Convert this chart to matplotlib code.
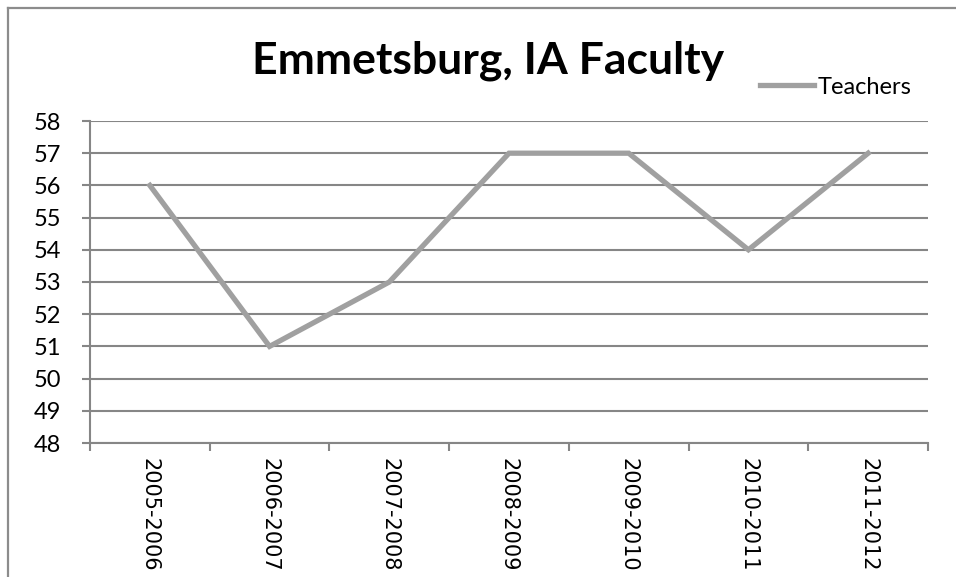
import matplotlib
matplotlib.use("Agg")
import matplotlib.pyplot as plt
from matplotlib.lines import Line2D

categories = ["2005-2006", "2006-2007", "2007-2008", "2008-2009", "2009-2010", "2010-2011", "2011-2012"]
teachers = [56, 51, 53, 57, 57, 54, 57]
yticks = [48, 49, 50, 51, 52, 53, 54, 55, 56, 57, 58]

W, H = 956, 577
fig = plt.figure(figsize=(W / 100, H / 100), dpi=100)
fig.patch.set_facecolor("white")

# outer chart border (cropped on right and bottom)
fig.add_artist(Line2D([8 / W, 8 / W], [0, 1 - 8 / H], transform=fig.transFigure, color="#8c8c8c", lw=1.6))
fig.add_artist(Line2D([8 / W, 1], [1 - 8 / H, 1 - 8 / H], transform=fig.transFigure, color="#8c8c8c", lw=1.6))

ax = fig.add_axes([90 / W, 1 - 443 / H, (928 - 90) / W, (443 - 121) / H])
x = list(range(len(categories)))
ax.plot(x, teachers, color="#a0a0a0", lw=3.8, solid_joinstyle="miter", label="Teachers")

ax.set_xlim(-0.5, len(categories) - 0.5)
ax.set_ylim(48, 58)
ax.set_yticks(yticks)
ax.set_yticklabels([str(v) for v in yticks], fontname="Lato", fontsize=17)
ax.yaxis.grid(True, color="#868686", lw=1.5)
ax.set_axisbelow(True)

ax.set_xticks([i - 0.5 for i in range(len(categories) + 1)], minor=False)
ax.set_xticklabels([""] * (len(categories) + 1))
ax.set_xticks(x, minor=True)
ax.set_xticklabels(categories, minor=True, rotation=-90, fontname="DejaVu Sans", fontsize=15, va="top")
ax.tick_params(axis="x", which="minor", length=0, pad=11)
ax.tick_params(axis="x", which="major", length=6, width=1.5, color="#868686", direction="out")
ax.tick_params(axis="y", length=6, width=1.5, color="#868686", direction="out", pad=15)

for s in ["top", "right"]:
    ax.spines[s].set_visible(False)
for s in ["left", "bottom"]:
    ax.spines[s].set_color("#868686")
    ax.spines[s].set_linewidth(1.5)

fig.text(488 / W, 1 - 61 / H, "Emmetsburg, IA Faculty", ha="center", va="center",
         fontname="Lato", fontweight="bold", fontsize=32)

leg = ax.legend(loc="center left", bbox_to_anchor=(760 / W, 1 - 87 / H), bbox_transform=fig.transFigure,
                frameon=False, prop={"family": "Lato", "size": 17}, handlelength=2.3, handletextpad=0.15,
                borderpad=0, borderaxespad=0)

fig.savefig("out.png", dpi=100, facecolor="white")
